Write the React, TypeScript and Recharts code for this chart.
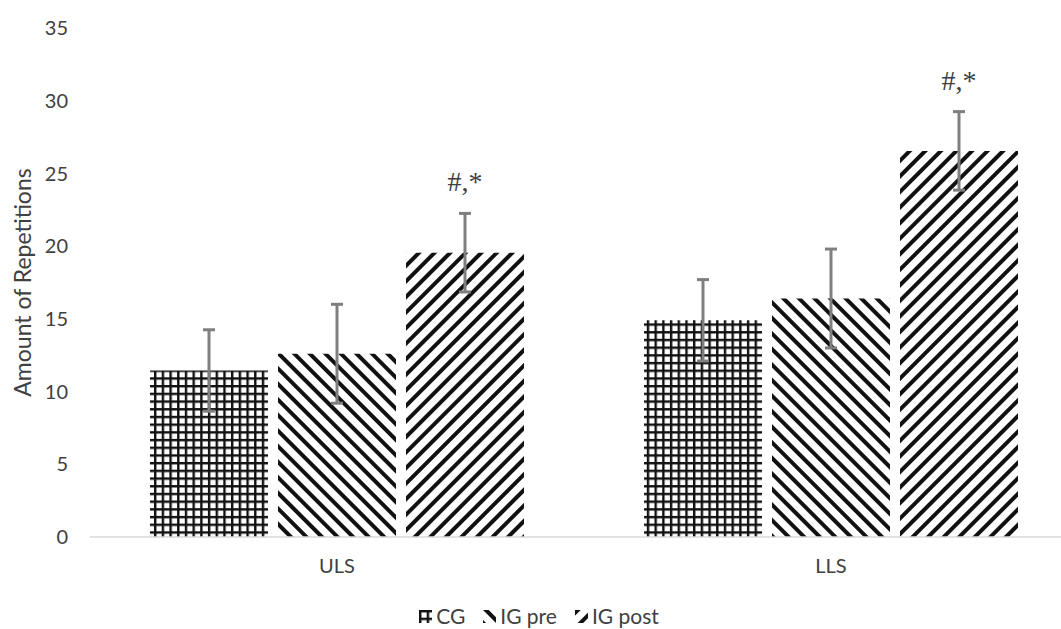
import { BarChart, Bar, XAxis, YAxis, ErrorBar, Legend } from 'recharts';

const categories = ['ULS', 'LLS'];
const cgValues = [11.45, 14.9];
const cgErrors = [2.8, 2.8];
const igPreValues = [12.6, 16.4];
const igPreErrors = [3.4, 3.4];
const igPostValues = [19.55, 26.55];
const igPostErrors = [2.7, 2.7];
const postMarks = ['#,*', '#,*'];
const yTicks = [0, 5, 10, 15, 20, 25, 30, 35];

const series = [
  { key: 'cg', err: 'cgErr', name: 'CG', pattern: 'pat-grid' },
  { key: 'pre', err: 'preErr', name: 'IG pre', pattern: 'pat-back' },
  { key: 'post', err: 'postErr', name: 'IG post', pattern: 'pat-fwd' },
];

const data = categories.map((c, i) => ({
  cat: c,
  cg: cgValues[i],
  cgErr: cgErrors[i],
  pre: igPreValues[i],
  preErr: igPreErrors[i],
  post: igPostValues[i],
  postErr: igPostErrors[i],
}));

const FONT = 'Lato, "Open Sans", sans-serif';
const TEXT = '#404040';

// "#,*" sits a little above the top of the error bar
const PostMark = (props: any) => {
  const { x, y, width, height, value, index } = props;
  const pxPerUnit = height / value;
  const top = y - igPostErrors[index] * pxPerUnit;
  return (
    <text x={x + width / 2} y={top - 22} textAnchor="middle" fontFamily='"Liberation Serif", serif' fontSize={28} fill={TEXT}>
      {postMarks[index]}
    </text>
  );
};

const LegendBox = () => (
  <div style={{ display: 'flex', justifyContent: 'center', gap: 18, marginTop: 9, fontFamily: FONT, fontSize: 21, lineHeight: '20px', color: TEXT }}>
    {series.map(s => (
      <div key={s.key} style={{ display: 'flex', alignItems: 'center' }}>
        <svg width={13} height={13} style={{ marginRight: 4 }}>
          <rect width={13} height={13} fill={`url(#${s.pattern})`} />
        </svg>
        <span>{s.name}</span>
      </div>
    ))}
  </div>
);

export default function App() {
  return (
    <div style={{ position: 'absolute', left: 0, top: 0, width: 1061, height: 629, overflow: 'hidden', background: '#fff' }}>
      <BarChart width={1090} height={629} data={data} margin={{ top: 28, right: 12, left: 0, bottom: 0 }} barSize={118} barGap={10}>
        <defs>
          <pattern id="pat-grid" width={7.7} height={7.7} patternUnits="userSpaceOnUse">
            <rect width={7.7} height={7.7} fill="#fff" />
            <rect x={0} y={0} width={7.7} height={2.4} fill="#111" />
            <rect x={0} y={0} width={2.4} height={7.7} fill="#111" />
          </pattern>
          <pattern id="pat-back" width={11} height={11} patternUnits="userSpaceOnUse" patternTransform="rotate(-45)">
            <rect width={11} height={11} fill="#fff" />
            <rect x={0} y={0} width={4} height={11} fill="#111" />
          </pattern>
          <pattern id="pat-fwd" width={11} height={11} patternUnits="userSpaceOnUse" patternTransform="rotate(45)">
            <rect width={11} height={11} fill="#fff" />
            <rect x={0} y={0} width={4} height={11} fill="#111" />
          </pattern>
        </defs>
        <XAxis
          dataKey="cat"
          height={60}
          tickLine={false}
          tickSize={0}
          tickMargin={22}
          axisLine={{ stroke: '#d9d9d9', strokeWidth: 1.5 }}
          tick={{ fontFamily: FONT, fontSize: 20, fill: TEXT }}
        />
        <YAxis
          width={90}
          domain={[0, 35]}
          ticks={yTicks}
          axisLine={false}
          tickLine={false}
          tickSize={0}
          tickMargin={22}
          tick={{ fontFamily: FONT, fontSize: 20, fill: TEXT }}
          label={(p: any) => {
            const vb = p.viewBox || { y: 28, height: 509 };
            const cy = vb.y + vb.height / 2;
            return (
              <text x={22} y={cy} transform={`rotate(-90, 22, ${cy})`} textAnchor="middle" dominantBaseline="central" fontFamily={FONT} fontSize={23} fill={TEXT}>
                Amount of Repetitions
              </text>
            );
          }}
        />
        <Legend verticalAlign="bottom" height={32} content={LegendBox} />
        {series.map(s => (
          <Bar key={s.key} dataKey={s.key} name={s.name} fill={`url(#${s.pattern})`} isAnimationActive={false} label={s.key === 'post' ? PostMark : undefined}>
            <ErrorBar dataKey={s.err} width={6} strokeWidth={3} stroke="#7f7f7f" direction="y" />
          </Bar>
        ))}
      </BarChart>
    </div>
  );
}
